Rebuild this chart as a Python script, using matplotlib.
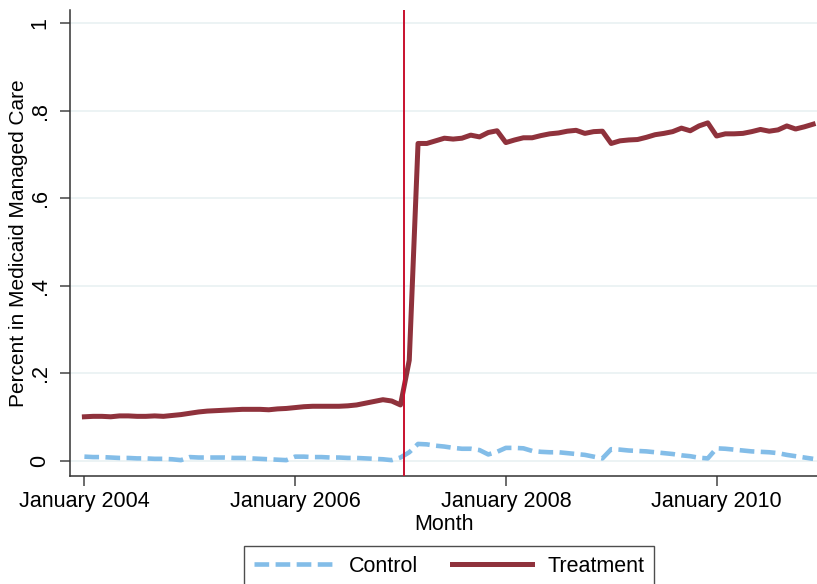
import numpy as np
import matplotlib
matplotlib.use("Agg")
import matplotlib.pyplot as plt

plt.rcParams["font.family"] = ["Liberation Sans", "DejaVu Sans"]

# ---------------------------------------------------
# Data: monthly shares, January 2004 - December 2010
# ---------------------------------------------------
months = np.arange(84)

treatment = [
    0.101, 0.102, 0.102, 0.101, 0.103, 0.103, 0.102, 0.102, 0.103, 0.102,
    0.104, 0.106, 0.109, 0.112, 0.114, 0.115, 0.116, 0.117, 0.118, 0.118,
    0.118, 0.117, 0.119, 0.120, 0.122, 0.124, 0.125, 0.125, 0.125, 0.125,
    0.126, 0.128, 0.132, 0.136, 0.140, 0.137, 0.128, 0.230, 0.725, 0.725,
    0.731, 0.737, 0.735, 0.737, 0.744, 0.740, 0.750, 0.754, 0.727, 0.733,
    0.738, 0.738, 0.743, 0.747, 0.749, 0.753, 0.755, 0.748, 0.752, 0.753,
    0.725, 0.731, 0.733, 0.734, 0.739, 0.745, 0.748, 0.752, 0.760, 0.754,
    0.765, 0.772, 0.742, 0.747, 0.747, 0.748, 0.752, 0.757, 0.753, 0.756,
    0.765, 0.758, 0.763, 0.769,
]

control = [
    0.010, 0.009, 0.009, 0.008, 0.007, 0.007, 0.006, 0.006, 0.005, 0.005,
    0.004, 0.002, 0.009, 0.008, 0.008, 0.008, 0.008, 0.007, 0.007, 0.006,
    0.005, 0.004, 0.003, 0.002, 0.010, 0.010, 0.009, 0.009, 0.008, 0.008,
    0.007, 0.007, 0.006, 0.005, 0.004, 0.002, 0.008, 0.020, 0.039, 0.038,
    0.035, 0.033, 0.030, 0.028, 0.028, 0.025, 0.015, 0.021, 0.030, 0.030,
    0.029, 0.023, 0.021, 0.020, 0.020, 0.018, 0.016, 0.014, 0.010, 0.006,
    0.027, 0.026, 0.024, 0.023, 0.022, 0.020, 0.018, 0.016, 0.013, 0.011,
    0.0075, 0.006, 0.029, 0.028, 0.026, 0.024, 0.022, 0.021, 0.020, 0.018,
    0.014, 0.011, 0.008, 0.005,
]

policy_month = 36.45

xtick_pos = [0, 24, 48, 72]
xtick_labels = ["January 2004", "January 2006", "January 2008", "January 2010"]
ytick_pos = [0, 0.2, 0.4, 0.6, 0.8, 1.0]
ytick_labels = ["0", ".2", ".4", ".6", ".8", "1"]

# ---------------------------------------------------
# Plot
# ---------------------------------------------------
W, H = 817, 584
fig = plt.figure(figsize=(W / 100, H / 100), dpi=100)
ax = fig.add_axes([70 / W, (H - 476) / H, (W - 70) / W, (476 - 10) / H])

for y in ytick_pos:
    ax.axhline(y, color="#eaf2f3", linewidth=1.3, zorder=0)

ax.plot(months, control, color="#83bde8", linewidth=3.3,
        dashes=(3.2, 1.4), label="Control", zorder=2)
ax.plot(months, treatment, color="#8f323c", linewidth=3.6,
        label="Treatment", zorder=3)
ax.axvline(policy_month, color="#c8102e", linewidth=1.4, zorder=4)

ax.set_xlim(-1.64, 83.44)
ax.set_ylim(-0.0342, 1.0297)

ax.set_xticks(xtick_pos)
ax.set_xticklabels(xtick_labels, fontsize=15.5)
ax.set_yticks(ytick_pos)
ax.set_yticklabels(ytick_labels, fontsize=15.5, rotation=90, va="center")

ax.tick_params(axis="both", direction="out", length=7, width=1.1,
               color="#444444")
ax.tick_params(axis="x", pad=4)
ax.tick_params(axis="y", pad=7)

for s in ["top", "right"]:
    ax.spines[s].set_visible(False)
for s in ["left", "bottom"]:
    ax.spines[s].set_color("#333333")
    ax.spines[s].set_linewidth(1.1)

ax.set_xlabel("Month", fontsize=15.5, labelpad=1)
ax.set_ylabel("Percent in Medicaid Managed Care", fontsize=15, labelpad=1)

leg = fig.legend(loc="upper center", bbox_to_anchor=(449 / W, (H - 546) / H),
                 ncol=2, fontsize=15.5, frameon=True, fancybox=False,
                 edgecolor="#222222", handlelength=3.7, columnspacing=1.6,
                 handletextpad=0.7, borderpad=0.45, borderaxespad=0)
leg.get_frame().set_linewidth(1.0)

fig.savefig("out.png", dpi=100)
